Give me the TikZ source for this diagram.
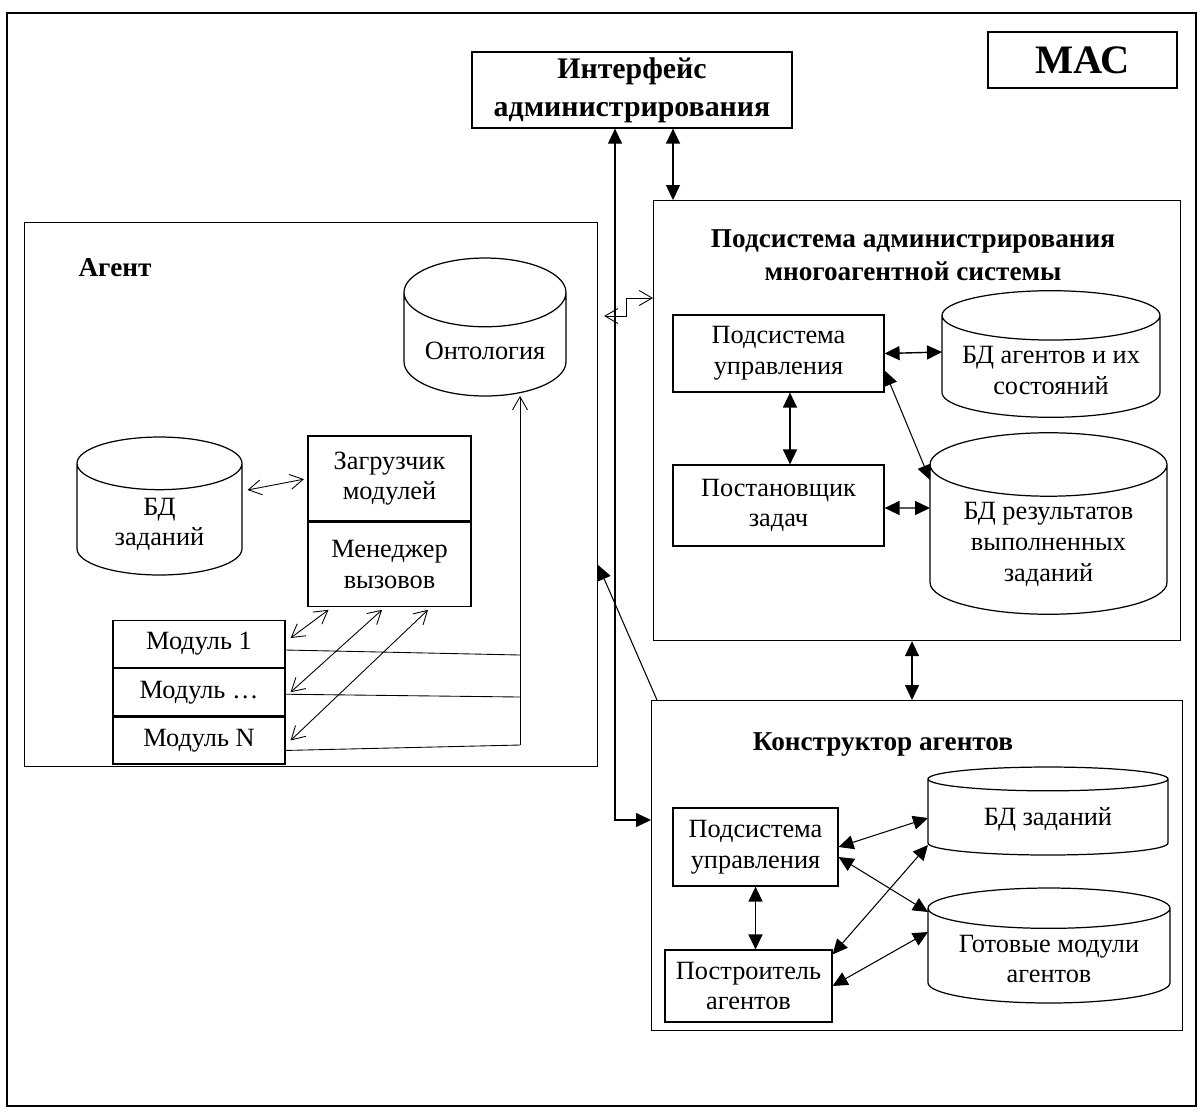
\documentclass[tikz,border=0pt]{standalone}
\usepackage{fontspec}
\setmainfont{Liberation Serif}
\usetikzlibrary{shapes.geometric, arrows.meta, calc}

\begin{document}
\begin{tikzpicture}[x=0.02cm, y=-0.02cm, font=\fontsize{15}{17.5}\selectfont,
    box/.style={draw, line width=0.7pt, align=center, inner sep=2pt},
    frame/.style={draw, line width=0.7pt, anchor=north west},
    base/.style={draw, line width=0.7pt, cylinder, shape border rotate=90, anchor=shape center, align=center},
    heading/.style={font=\fontsize{15.5}{18.5}\selectfont\bfseries, align=center},
    link/.style={{Triangle[length=0.3cm,width=0.28cm]}-{Triangle[length=0.3cm,width=0.28cm]}, line width=0.8pt},
    thin link/.style={{Straight Barb[length=0.26cm,width=0.3cm]}-{Straight Barb[length=0.26cm,width=0.3cm]}, line width=0.5pt}]
    \useasboundingbox (0,0) rectangle (1202,1113);
    \draw[line width=0.6pt] (7,13) rectangle (1196,1106);

    % top
    \node[box, minimum width=6.4cm, minimum height=1.52cm, font=\fontsize{17}{21.5}\selectfont\bfseries] (iface) at (632,90) {Интерфейс\\администрирования};
    \node[box, minimum width=3.78cm, minimum height=1.12cm, font=\fontsize{23}{27}\selectfont\bfseries] (mac) at (1082.5,60) {МАС};

    % agent
    \node[frame, minimum width=11.46cm, minimum height=10.88cm] (agent) at (24,222) {};
    \node[heading] (agentname) at (115,268) {Агент};
    \node[base, minimum width=3.24cm, minimum height=2.76cm, aspect=0.52] (ont) at (485,327) {Онтология};
    \node[base, minimum width=3.3cm, minimum height=2.76cm, aspect=0.52] (bdzad1) at (159.5,506) {БД\\заданий};
    \node[box, minimum width=3.26cm, minimum height=1.7cm] (loader) at (389.5,478.5) {Загрузчик\\модулей};
    \node[box, minimum width=3.26cm, minimum height=1.68cm, anchor=north] (manager) at (loader.south) {Менеджер\\вызовов};
    \node[box, minimum width=3.44cm, minimum height=0.94cm] (m1) at (199,644) {Модуль 1};
    \node[box, minimum width=3.44cm, minimum height=0.94cm, anchor=north] (m2) at (m1.south) {Модуль …};
    \node[box, minimum width=3.44cm, minimum height=0.94cm, anchor=north] (mN) at (m2.south) {Модуль N};
    \coordinate (b1) at (520,655);
    \coordinate (b2) at (520,697);
    \coordinate (b3) at (520,745);

    % administration subsystem
    \node[frame, minimum width=10.54cm, minimum height=8.8cm] (adm) at (653,200) {};
    \node[heading] (admname) at (913,255) {Подсистема администрирования\\многоагентной системы};
    \node[box, minimum width=4.22cm, minimum height=1.54cm] (upr1) at (778.5,353.5) {Подсистема\\управления};
    \node[box, minimum width=4.22cm, minimum height=1.62cm] (post) at (778.5,505.5) {Постановщик\\задач};
    \node[base, minimum width=4.36cm, minimum height=2.36cm, aspect=0.26] (bdag) at (1051,354) {БД агентов и их\\состояний};
    \node[base, minimum width=4.74cm, minimum height=3.26cm, aspect=0.35] (bdres) at (1048.5,523.5) {БД результатов\\выполненных\\заданий};

    % agent constructor
    \node[frame, minimum width=10.62cm, minimum height=6.6cm] (kon) at (651,700) {};
    \node[heading] (konname) at (883,745) {Конструктор агентов};
    \node[box, minimum width=3.3cm, minimum height=1.56cm] (upr2) at (755.5,847) {Подсистема\\управления};
    \node[box, minimum width=3.34cm, minimum height=1.44cm] (postr) at (748.5,986) {Построитель\\агентов};
    \node[base, minimum width=4.8cm, minimum height=1.76cm, aspect=0.17] (bdz2) at (1048,811) {БД заданий};
    \node[base, minimum width=4.84cm, minimum height=2.3cm, aspect=0.21] (gotov) at (1049,945.5) {Готовые модули\\агентов};

    % connectors
    \draw[link] ([xshift=0.82cm]iface.south) -- ([xshift=0.82cm]iface.south |- adm.north);
    \draw[link, line width=0.6pt] ([xshift=-0.34cm]iface.south) |- (kon.west |- 0,820);
    \draw[-{Triangle[length=0.3cm,width=0.28cm]}, line width=0.6pt] ([xshift=0.12cm]kon.north west) -- (agent.east |- 0,565);
    \draw[thin link] ([xshift=0.12cm]agent.east |- 0,316) -- (626,316) -- (626,298) -- (adm.west |- 0,298);
    \draw[link] (adm.south -| 912,0) -- (kon.north -| 912,0);

    \draw[link] (upr1.east) -- ($(bdag.shape center)+(-109,-2)$);
    \draw[link] ([xshift=0.23cm]upr1.south) -- ([xshift=0.23cm]post.north);
    \draw[link, line width=0.6pt] ([yshift=-0.34cm]upr1.east) -- ($(bdres.shape center)+(-118.5,-43.5)$);
    \draw[link] ([yshift=-0.05cm]post.east) -- ($(bdres.shape center)+(-118.5,-15.5)$);

    \draw[link] (upr2.south) -- (upr2.south |- postr.north);
    \draw[link, line width=0.6pt] (upr2.east) -- ($(bdz2.shape center)+(-120,7)$);
    \draw[link, line width=0.6pt] ([yshift=-0.2cm]upr2.east) -- ($(gotov.shape center)+(-121,-33.5)$);
    \draw[link, line width=0.6pt] ([yshift=-0.1cm]postr.north east) -- ($(bdz2.shape center)+(-120,34)$);
    \draw[link, line width=0.6pt] (postr.east) -- ($(gotov.shape center)+(-121,-13.5)$);

    \draw[thin link, shorten >=2pt] ($(bdzad1.shape center)+(88,-16)$) -- (loader.west);
    \draw[thin link] ([xshift=-1.22cm,yshift=-0.06cm]manager.south) -- ([xshift=0.1cm,yshift=0.12cm]m1.east);
    \draw[thin link] ([xshift=-0.15cm,yshift=-0.06cm]manager.south) -- ([xshift=0.1cm]m2.east);
    \draw[thin link] ([xshift=0.77cm,yshift=-0.06cm]manager.south) -- ([xshift=0.1cm]mN.east);
    \draw[line width=0.5pt] ([yshift=-0.12cm]m1.east) -- (b1) ([yshift=-0.04cm]m2.east) -- (b2) ([yshift=-0.2cm]mN.east) -- (b3);
    \draw[-{Straight Barb[length=0.26cm,width=0.3cm]}, line width=0.5pt] (b3) -- ($(ont.shape center)+(35,69)$);
\end{tikzpicture}
\end{document}
